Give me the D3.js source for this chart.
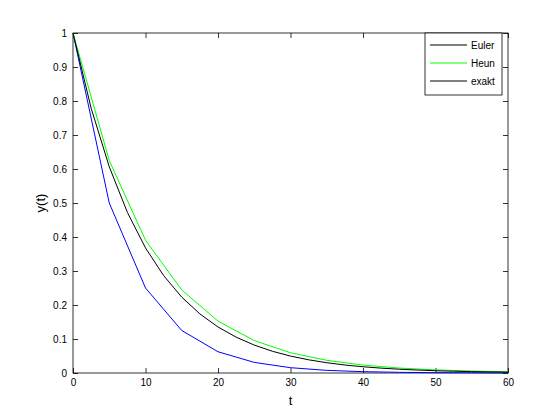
<!DOCTYPE html><html><head><script src="https://cdn.jsdelivr.net/npm/d3@7"></script>
<style>body{margin:0;background:#fff}text{font-family:"Liberation Sans",Arial,sans-serif}</style></head><body>
<svg id="c" width="560" height="420"></svg>
<script>
const tCoarse=[0,5,10,15,20,25,30,35,40,45,50,55,60];
const euler=[1,0.5,0.25,0.125,0.0625,0.03125,0.0156,0.0078,0.0039,0.002,0.001,0.0005,0.0002];
const heun=[1,0.625,0.3906,0.2441,0.1526,0.0954,0.0596,0.0373,0.0233,0.0146,0.0091,0.0057,0.0036];
const tFine=[0,2.5,5,7.5,10,12.5,15,17.5,20,22.5,25,27.5,30,32.5,35,37.5,40,42.5,45,47.5,50,52.5,55,57.5,60];
const exakt=[1,0.7788,0.6065,0.4724,0.3679,0.2865,0.2231,0.1738,0.1353,0.1054,0.0821,0.0639,0.0498,0.0388,0.0302,0.0235,0.0183,0.0143,0.0111,0.0087,0.0067,0.0052,0.0041,0.0032,0.0025];
const xTicks=[0,10,20,30,40,50,60];
const yTicks=[0,0.1,0.2,0.3,0.4,0.5,0.6,0.7,0.8,0.9,1];
const L=73,R=508,T=33,B=373;
const svg=d3.select("#c");
const x=d3.scaleLinear().domain([0,60]).range([L,R]);
const y=d3.scaleLinear().domain([0,1]).range([B,T]);
svg.append("rect").attr("x",L).attr("y",T).attr("width",R-L).attr("height",B-T).attr("fill","#fff").attr("stroke","#000").attr("stroke-width",0.8);
const fmt=d=>String(d);
svg.append("g").attr("transform",`translate(0,${B})`).call(d3.axisBottom(x).tickValues(xTicks).tickFormat(fmt).tickSizeInner(-5).tickSizeOuter(0).tickPadding(6));
svg.append("g").attr("transform",`translate(0,${T})`).call(d3.axisTop(x).tickValues(xTicks).tickFormat("").tickSizeInner(-5).tickSizeOuter(0));
svg.append("g").attr("transform",`translate(${L},0)`).call(d3.axisLeft(y).tickValues(yTicks).tickFormat(fmt).tickSizeInner(-5).tickSizeOuter(0).tickPadding(6));
svg.append("g").attr("transform",`translate(${R},0)`).call(d3.axisRight(y).tickValues(yTicks).tickFormat("").tickSizeInner(-5).tickSizeOuter(0));
svg.selectAll(".domain").remove();
svg.selectAll(".tick text").attr("font-size",10).attr("fill","#000");
svg.selectAll(".tick line").attr("stroke","#000").attr("stroke-width",0.8);
const line=d3.line().x(d=>x(d[0])).y(d=>y(d[1]));
const draw=(ts,vs,c)=>svg.append("path").attr("d",line(ts.map((t,i)=>[t,vs[i]]))).attr("fill","none").attr("stroke",c).attr("stroke-width",1);
draw(tCoarse,euler,"#0000ff");
draw(tCoarse,heun,"#00ff00");
draw(tFine,exakt,"#000");
svg.append("text").attr("x",(L+R)/2).attr("y",405).attr("text-anchor","middle").attr("font-size",13).text("t");
svg.append("text").attr("transform",`translate(45,${(T+B)/2}) rotate(-90)`).attr("text-anchor","middle").attr("font-size",13).text("y(t)");
const lg=svg.append("g");
lg.append("rect").attr("x",425).attr("y",33).attr("width",77).attr("height",62).attr("fill","#fff").attr("stroke","#000").attr("stroke-width",0.8);
const names=["Euler","Heun","exakt"],cols=["#000","#00ff00","#000"];
names.forEach((n,i)=>{const yy=45+i*18;
lg.append("line").attr("x1",430).attr("x2",467).attr("y1",yy).attr("y2",yy).attr("stroke",cols[i]);
lg.append("text").attr("x",471).attr("y",yy+3.5).attr("font-size",10).text(n);});
</script></body></html>
